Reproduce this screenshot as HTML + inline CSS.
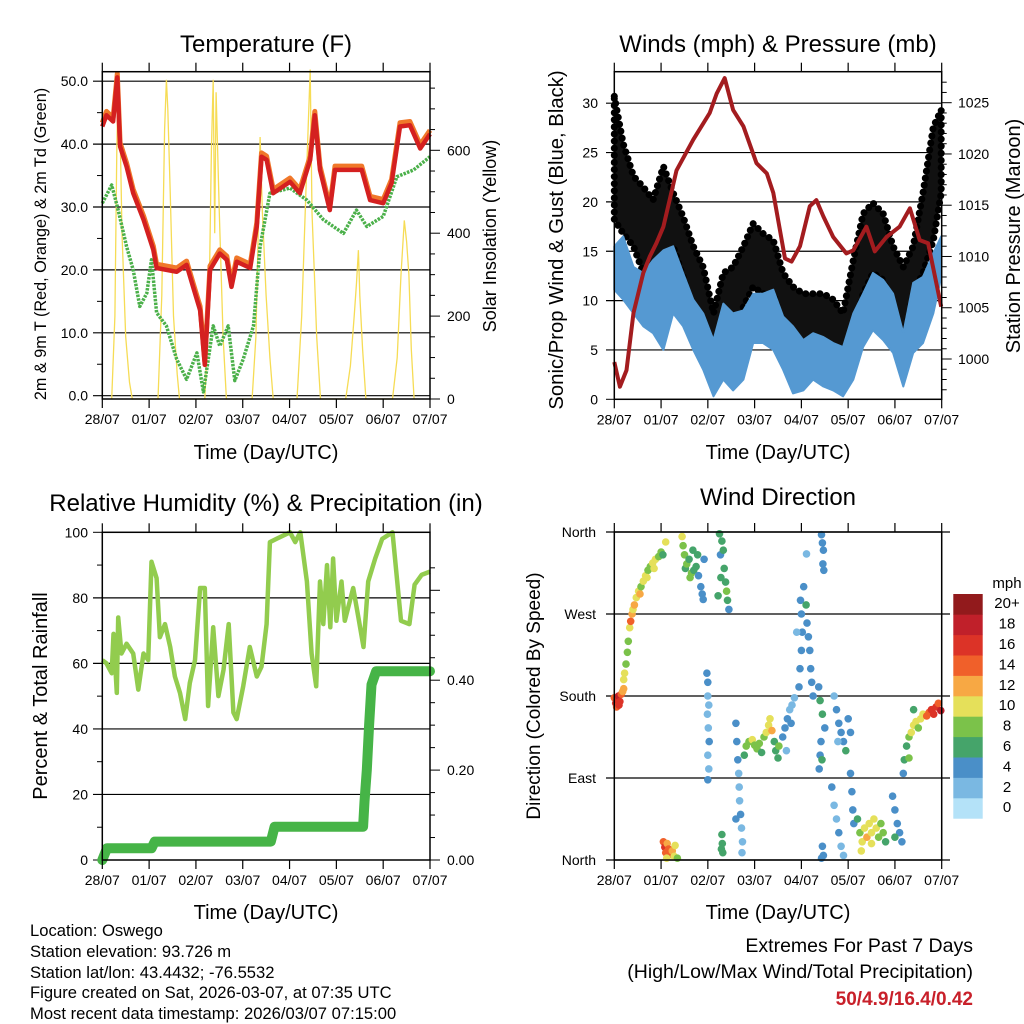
<!DOCTYPE html>
<html><head><meta charset="utf-8"><style>
html,body{margin:0;padding:0;background:#fff;}
svg{display:block;font-family:"Liberation Sans",Arial,sans-serif;}
</style></head><body>
<svg id="fig" xmlns="http://www.w3.org/2000/svg" width="1024" height="1024" viewBox="0 0 1024 1024">
<rect width="1024" height="1024" fill="#fff"/>
<g id="p1"></g>
<g id="p2"></g>
<g id="p3"></g>
<g id="p4"></g>

<text x="266" y="52" font-size="24" text-anchor="middle">Temperature (F)</text>
<text x="778" y="52" font-size="24" text-anchor="middle">Winds (mph) &amp; Pressure (mb)</text>
<text x="266" y="511" font-size="24" text-anchor="middle">Relative Humidity (%) &amp; Precipitation (in)</text>
<text x="778" y="505" font-size="24" text-anchor="middle">Wind Direction</text>

<text x="266" y="459" font-size="20" text-anchor="middle">Time (Day/UTC)</text>
<text x="778" y="459" font-size="20" text-anchor="middle">Time (Day/UTC)</text>
<text x="266" y="919" font-size="20" text-anchor="middle">Time (Day/UTC)</text>
<text x="778" y="919" font-size="20" text-anchor="middle">Time (Day/UTC)</text>

<text transform="translate(46,244) rotate(-90)" font-size="16.2" text-anchor="middle">2m &amp; 9m T (Red, Orange) &amp; 2m Td (Green)</text>
<text transform="translate(496,236) rotate(-90)" font-size="18" text-anchor="middle">Solar Insolation (Yellow)</text>
<text transform="translate(563,240) rotate(-90)" font-size="20.3" text-anchor="middle">Sonic/Prop Wind &amp; Gust (Blue, Black)</text>
<text transform="translate(1020,236) rotate(-90)" font-size="20" text-anchor="middle">Station Pressure (Maroon)</text>
<text transform="translate(47,696) rotate(-90)" font-size="20" text-anchor="middle">Percent &amp; Total Rainfall</text>
<text transform="translate(540,696) rotate(-90)" font-size="19" text-anchor="middle">Direction (Colored By Speed)</text>

<g font-size="16.6">
<text x="30" y="936">Location: Oswego</text>
<text x="30" y="957">Station elevation: 93.726 m</text>
<text x="30" y="978">Station lat/lon: 43.4432; -76.5532</text>
<text x="30" y="998">Figure created on Sat, 2026-03-07, at 07:35 UTC</text>
<text x="30" y="1019">Most recent data timestamp: 2026/03/07 07:15:00</text>
</g>
<g font-size="19.5" text-anchor="end">
<text x="973" y="952">Extremes For Past 7 Days</text>
<text x="973" y="978">(High/Low/Max Wind/Total Precipitation)</text>
<text x="973" y="1005" fill="#c8202a" font-weight="bold" font-size="19">50/4.9/16.4/0.42</text>
</g>
</svg>
<script>
// ---------- data ----------
const dayLabels = ["28/07","01/07","02/07","03/07","04/07","05/07","06/07","07/07"];
const tempT = [0,0.09,0.23,0.32,0.38,0.52,0.66,0.88,1.09,1.16,1.59,1.8,1.94,2.09,2.19,2.3,2.51,2.66,2.76,2.87,3.16,3.3,3.4,3.51,3.65,4.01,4.22,4.44,4.54,4.65,4.86,4.97,5.15,5.54,5.72,6.0,6.18,6.36,6.57,6.79,7.0];
const tempV = [42.8,44.6,43.6,50.6,39.6,36.4,32.2,28,23.2,20.3,19.7,20.8,17.3,13.6,4.9,20,22.6,21.6,17.3,21.3,20.3,26.9,38,37.5,32.2,34,32.2,37.5,44.6,35.9,29.5,35.9,35.9,35.9,31.1,30.6,33.8,42.8,43,39.3,41.6];
const dewT = [0,0.2,0.34,0.52,0.66,0.8,0.95,1.05,1.16,1.37,1.59,1.8,2.02,2.16,2.37,2.51,2.69,2.83,3.01,3.23,3.37,3.58,4.01,4.37,4.72,5.15,5.43,5.65,6.0,6.29,6.65,7.0];
const dewV = [30.6,33.5,29.5,23.7,20,14.2,16.3,21.6,13.2,11.1,5.8,2.6,6.8,0.6,11.1,7.9,11.1,2.4,5.8,11.1,23.7,32.2,33,31.1,28,25.8,29.5,26.9,28.5,34.8,35.9,38];
const solarT = [0.2,0.27,0.31,0.34,0.38,0.42,0.5,0.58,0.64, 1.19,1.27,1.33,1.37,1.4,1.45,1.52,1.6,1.65, 2.19,2.28,2.33,2.37,2.4,2.43,2.5,2.58,2.65, 3.2,3.28,3.33,3.37,3.42,3.5,3.58,3.65, 4.16,4.26,4.35,4.44,4.48,4.53,4.58,4.66, 5.2,5.3,5.38,5.43,5.47,5.5,5.56,5.63, 6.2,6.3,6.38,6.45,6.5,6.55,6.6,6.66];
const solarV = [0,200,600,770,650,400,150,40,0, 0,250,650,770,700,500,200,60,0, 0,220,600,770,400,740,450,150,0, 0,150,400,632,450,250,100,0, 0,200,500,795,450,300,150,0, 0,80,200,280,359,250,120,0, 0,100,300,431,380,300,120,0];

const windT = [0,0.19,0.41,0.62,0.83,1.05,1.26,1.47,1.69,1.9,2.12,2.33,2.54,2.76,2.97,3.18,3.4,3.61,3.82,4.04,4.25,4.47,4.68,4.89,5.11,5.32,5.53,5.75,5.96,6.18,6.39,6.6,6.82,6.99];
const windHi = [15.5,16.5,13.4,12.8,14.1,15.1,15.5,12.8,10.1,8.7,6.0,9.7,8.7,9.0,10.7,10.7,11.1,8.4,7.4,6.0,6.7,6.3,5.7,5.3,8.7,10.7,12.8,12.1,10.7,6.7,11.8,12.4,14.8,16.5];
const windLo = [11.1,10.1,8.7,7.4,6.7,5.0,8.7,7.4,5.0,3.0,0.3,2.0,0.9,2.0,5.7,5.7,5.0,3.0,0.6,0.9,2.0,1.3,0.9,0.3,2.0,5.3,7.0,6.0,4.7,1.3,4.7,5.7,8.7,12.4];
const gustHi = [30.7,25.9,22.6,21.5,20.2,23.6,20.9,18.5,15.5,13.4,8.7,12.8,13.4,15.5,17.8,16.8,16.1,12.8,11.4,10.7,10.7,10.7,10.1,8.7,14.1,18.8,19.9,18.8,15.5,13.4,15.5,20.9,27.6,29.3];
const gustLo = [18.2,16.8,15.5,12.8,11.4,12.8,15.5,12.4,8.7,6.3,4.0,5.3,4.7,9.4,11.4,10.7,10.7,7.4,4.7,4.7,4.7,4.7,4.7,4.0,6.7,10.7,12.8,12.1,8.7,5.7,10.7,12.8,16.1,20.9];
const presT = [0,0.12,0.26,0.41,0.62,0.76,0.9,1.05,1.33,1.69,2.04,2.19,2.36,2.54,2.76,3.04,3.26,3.4,3.65,3.79,3.97,4.18,4.32,4.47,4.68,4.96,5.11,5.39,5.57,5.82,6.1,6.32,6.53,6.71,6.99];
const presV = [999.7,997.3,998.9,1004.5,1008.4,1010,1011.3,1012.9,1018.4,1021.4,1024,1025.9,1027.4,1024.3,1022.7,1019.1,1018.1,1016.2,1009.8,1009.5,1011,1014.9,1015.5,1013.9,1011.9,1010.3,1010.6,1012.9,1010.5,1011.9,1012.9,1014.7,1011.6,1011.3,1005.1];

const rhT = [0,0.09,0.2,0.24,0.31,0.34,0.41,0.52,0.66,0.77,0.88,0.98,1.05,1.16,1.23,1.34,1.45,1.55,1.66,1.77,1.87,1.98,2.09,2.19,2.26,2.37,2.48,2.59,2.7,2.8,2.87,3.01,3.15,3.3,3.4,3.51,3.58,3.72,4.01,4.12,4.23,4.37,4.47,4.57,4.65,4.72,4.8,4.87,4.93,5.0,5.11,5.18,5.36,5.47,5.58,5.68,5.83,5.98,6.2,6.38,6.56,6.67,6.82,7.0];
const rhV = [61,60,57,69,51,74,63,66,63,52,63,61,91,86,68,72,65,56,51,43,54,61,83,83,47,71,50,58,72,45,43,53,65,56,59,72,97,98,100,97,100,85,63,53,85,72,90,71,92,73,85,73,83,74,65,85,92,98,100,73,72,84,87,88];
const rainT = [0,0.1,1.05,1.12,3.6,3.68,5.57,5.6,5.65,5.7,5.75,5.85,7.0];
const rainV = [0,0.026,0.026,0.041,0.041,0.074,0.074,0.13,0.2,0.3,0.39,0.42,0.42];

const wdT = [0,0.03,0.06,0.09,0.12,0.15,0.18,0.05,0.1,0.2, 0.2,0.22,0.25,0.28,0.3,0.33,0.35,0.38,0.4,0.43, 0.47,0.52,0.57,0.62,0.67,0.72,0.77,0.82,0.88,0.95,1.0,1.04,0.55,0.7,0.85,1.1,
 1.05,1.08,1.1,1.13,1.16,1.2,1.24,1.28,1.3,1.35,1.12,
 1.45,1.47,1.5,1.52,1.55,1.6,1.62,1.65,1.7,1.75,1.8,1.85,1.88,1.9,1.78,1.68,1.92,
 1.98,2.0,2.0,2.02,1.99,2.01,2.03,2.0,2.02,2.0,
 2.25,2.3,2.27,2.35,2.38,2.4,2.42,2.45,2.33,2.28,2.22, 2.3,2.31,2.32,2.29,
 2.6,2.62,2.64,2.66,2.67,2.68,2.7,2.72,2.74,2.73,2.6,
 2.78,2.82,2.88,2.95,3.0,3.05,3.1,3.15,3.2,3.25,3.3,3.33,3.37,3.42,3.45,3.5,3.52,
 3.6,3.65,3.7,3.75,3.8,3.78,3.68,3.85,
 3.95,3.97,4.0,4.02,4.0,3.98,4.05,4.1,4.12,4.15,4.18,4.2,4.22,4.25,4.11,3.9,
 4.43,4.45,4.47,4.46,4.48, 4.37,4.4,4.45,4.5,4.42,4.4,4.38,4.44,
 4.7,4.75,4.8,4.85,4.9,4.95,4.78,5.0,5.05, 4.65,4.7,4.75,4.8,4.85,4.9, 4.45,4.47,4.43,
 5.05,5.08,5.1,5.12,
 5.2,5.25,5.3,5.35,5.4,5.45,5.5,5.55,5.6,5.65,5.7,5.75,5.8,5.28,5.5,
 5.95,6.0,6.05,6.1,6.15,6.0,
 6.18,6.2,6.25,6.3,6.35,6.4,6.45,6.5,6.55,6.6,6.3,6.4,
 6.68,6.73,6.78,6.83,6.88,6.93,6.98];
const wdDir = [178,172,176,180,174,182,185,168,170,188, 198,205,215,228,240,255,262,270,275,280, 288,295,300,306,312,318,322,326,330,333,338,335,292,310,320,349,
 20,14,8,18,12,6,10,4,16,2,2,
 355,345,335,320,325,330,310,315,318,322,312,300,292,286,335,340,330,
 205,195,180,170,160,145,130,115,100,88,
 358,350,335,320,305,295,285,275,340,310,290, 28,18,8,12,
 150,130,110,95,80,65,50,35,20,8,45,
 115,125,130,132,126,122,128,118,135,140,148,155,142,130,120,112,125,
 135,145,155,165,170,150,120,178,
 190,210,230,250,270,285,300,280,260,245,230,210,195,180,336,250,
 357,348,340,325,318, 190,175,160,145,130,115,100,110,
 180,165,150,140,130,120,130,155,140, 80,60,45,30,15,5, 15,5,2,
 95,75,55,40,
 45,30,20,35,25,40,30,45,35,25,40,30,20,10,18,
 70,55,40,30,20,25,
 95,110,125,135,140,148,152,145,155,160,112,165,
 158,162,165,160,168,172,164];
const wdSpd = [14,15,16,17,15,13,12,14,15,12, 9,10,8,7,8,10,13,12,10,11, 9,10,8,10,9,8,7,9,10,7,8,6,11,10,10,10,
 14,15,13,12,14,13,12,10,9,7,10,
 9,8,7,6,7,6,8,7,6,5,4,4,4,4,5,6,3,
 4,3,2,2,2,2,3,2,2,3,
 6,5,4,6,6,7,6,4,6,6,6, 6,6,6,5,
 3,3,4,2,2,2,3,2,2,2,4,
 6,8,8,10,8,7,8,6,8,10,10,10,12,6,6,6,7,
 4,4,4,2,2,3,2,2,
 3,3,4,4,4,4,4,5,4,4,4,4,3,3,2,2,
 4,4,4,4,3, 4,5,5,4,4,4,4,6,
 2,3,4,4,3,6,2,4,4, 3,2,2,3,2,2, 4,4,3,
 4,4,4,4,
 6,8,10,10,12,10,10,9,10,8,7,8,6,10,9,
 4,4,4,4,3,6,
 4,5,6,8,10,9,10,8,9,10,8,6,
 13,14,15,15,16,14,17];
const speedColors = ["#b4e2f8","#7ab8e2","#4a8fc8","#45a46a","#7bc24a","#e5e05a","#f7a844","#f0602a","#dc3327","#c0202a","#921a1c"];
const speedLabels = ["0","2","4","6","8","10","12","14","16","18","20+"];

// ---------- helpers ----------
const NS = "http://www.w3.org/2000/svg";
function lin(d0,d1,r0,r1){return v => r0 + (v-d0)*(r1-r0)/(d1-d0);}
function mk(parent, tag, attrs){const e=document.createElementNS(NS,tag);for(const k in attrs)e.setAttribute(k,attrs[k]);parent.appendChild(e);return e;}
function pathFrom(xs, ys, xf, yf){return xs.map((t,i)=>(i?"L":"M")+xf(t).toFixed(1)+","+yf(ys[i]).toFixed(1)).join("");}
function frame(g, x0,x1,y0,y1, xf){
  for(let i=0;i<dayLabels.length;i++){
    const x=xf(i);
    const t1=mk(g,"line",{x1:x,x2:x,y1:y0-9,y2:y0,stroke:"#000","stroke-width":1.2});
    
    
    const t2=mk(g,"line",{x1:x,x2:x,y1:y1,y2:y1+9,stroke:"#000","stroke-width":1.2});
    
    
    const tx=mk(g,"text",{x:x,y:y1+25,"font-size":14,"text-anchor":"middle"});
    tx.textContent=dayLabels[i];
    
    
  }
  const b=mk(g,"rect",{x:x0,y:y0,width:x1-x0,height:y1-y0,fill:"none",stroke:"#000","stroke-width":1.5});
  
  
}
function hgrid(g, y, xa, xb, w){
  const l=mk(g,"line",{x1:xa,x2:xb,y1:y,y2:y,stroke:"#000","stroke-width":w||1.2});
  
  
}
function label(g, x, y, txt, anchor, name, size){
  const t=mk(g,"text",{x:x,y:y+5,"font-size":size||14,"text-anchor":anchor});
  t.textContent=txt;
  
  
}
function rtick(g, x, y, len){
  const l=mk(g,"line",{x1:x,x2:x+len,y1:y,y2:y,stroke:"#000","stroke-width":1});
  
  
}

// ---------- panel 1: temperature ----------
(function(){
  const g=document.getElementById("p1");
  const xT=lin(0,7,102.3,430), yT=lin(0,50,395.7,81.2), yS=lin(0,600,399,150.3);
  for(let v=0;v<=50;v+=10){hgrid(g,yT(v),93,430);label(g,88,yT(v),v.toFixed(1),"end","temp-y-label");}
  for(let v=5;v<=50;v+=10){rtick(g,97,yT(v),5);}
  for(let v=0;v<=750;v+=50){rtick(g,430,yS(v),v%200===0?10:5);}
  for(let v=0;v<=600;v+=200){label(g,447,yS(v),String(v),"start","solar-y-label");}
  const sol=mk(g,"path",{d:pathFrom(solarT,solarV,xT,yS),fill:"none",stroke:"#f6dc55","stroke-width":1.3});
  
  
  const dew=mk(g,"path",{d:pathFrom(dewT,dewV,xT,yT),fill:"none",stroke:"#4bb04a","stroke-width":3.5,"stroke-dasharray":"2.5 1.2","stroke-linejoin":"round"});
  
  
  const t9=mk(g,"path",{d:pathFrom(tempT,tempV.map(v=>v+0.6),xT,yT),fill:"none",stroke:"#f0782a","stroke-width":5,"stroke-linejoin":"round"});
  
  
  const t2=mk(g,"path",{d:pathFrom(tempT,tempV,xT,yT),fill:"none",stroke:"#d42020","stroke-width":4.5,"stroke-linejoin":"round"});
  
  
  frame(g,102.3,430,71.7,399,xT);
})();

// ---------- panel 2: winds & pressure ----------
(function(){
  const g=document.getElementById("p2");
  const xW=lin(0,7,614.3,941.7), yW=lin(0,30,399.3,103.2), yP=lin(1000,1025,359,102.7);
  for(let v=0;v<=30;v+=5){ if(v>0) hgrid(g,yW(v),606,942); else rtick(g,606,yW(v),8); label(g,598,yW(v),String(v),"end","wind-y-label");}
  for(let v=997;v<=1027;v++){rtick(g,941.7,yP(v),v%5===0?10:5);}
  for(let v=1000;v<=1025;v+=5){label(g,958,yP(v),String(v),"start","pressure-y-label");}
  const gb=windT.map((t,i)=>xW(t).toFixed(1)+","+yW(gustHi[i]).toFixed(1)).concat(windT.slice().reverse().map((t,j)=>{const i=windT.length-1-j;return xW(t).toFixed(1)+","+yW(gustLo[i]).toFixed(1);}));
  const gust=mk(g,"polygon",{points:gb.join(" "),fill:"#111",stroke:"#000","stroke-width":7,"stroke-linejoin":"round","stroke-dasharray":"0.1 7","stroke-linecap":"round"});
  
  
  const wb=windT.map((t,i)=>xW(t).toFixed(1)+","+yW(windHi[i]).toFixed(1)).concat(windT.slice().reverse().map((t,j)=>{const i=windT.length-1-j;return xW(t).toFixed(1)+","+yW(windLo[i]).toFixed(1);}));
  const wind=mk(g,"polygon",{points:wb.join(" "),fill:"#5599d2",stroke:"#5599d2","stroke-width":2,"stroke-linejoin":"round"});
  
  
  const pr=mk(g,"path",{d:pathFrom(presT,presV,xW,yP),fill:"none",stroke:"#a31c1f","stroke-width":4,"stroke-linejoin":"round"});
  
  
  frame(g,614.3,941.7,71.7,399.3,xW);
})();

// ---------- panel 3: humidity & rain ----------
(function(){
  const g=document.getElementById("p3");
  const xR=lin(0,7,102.3,430), yR=lin(0,100,860,532.3), yRain=lin(0,0.6,860,590.3);
  for(let v=0;v<=100;v+=20){ if(v>0&&v<100) hgrid(g,yR(v),93,430); else rtick(g,93,yR(v),9); label(g,88,yR(v),String(v),"end","rh-y-label");}
  for(let v=10;v<100;v+=20){rtick(g,97,yR(v),5);}
  for(let v=0;v<=0.7;v+=0.05){rtick(g,430,yRain(v),Math.round(v*100)%20===0?10:5);}
  for(let v=0;v<=0.6;v+=0.2){label(g,447,yRain(v),v.toFixed(2),"start","rain-y-label");}
  const rh=mk(g,"path",{d:pathFrom(rhT,rhV,xR,yR),fill:"none",stroke:"#92cc4e","stroke-width":4.5,"stroke-linejoin":"round"});
  
  
  const rn=mk(g,"path",{d:pathFrom(rainT,rainV,xR,yRain),fill:"none",stroke:"#46b447","stroke-width":10,"stroke-linejoin":"round","stroke-linecap":"round"});
  
  
  frame(g,102.3,430,532.3,860,xR);
})();

// ---------- panel 4: wind direction ----------
(function(){
  const g=document.getElementById("p4");
  const xD=lin(0,7,614.3,941.7), yD=lin(0,360,860,532);
  const names=["North","East","South","West","North"];
  for(let i=0;i<=4;i++){hgrid(g,yD(i*90),606,950);label(g,596,yD(i*90),names[i],"end","direction-y-label");}
  for(let i=0;i<wdT.length;i++){
    const ci=Math.min(10,Math.floor((wdSpd[i]+1)/2));
    const c=mk(g,"circle",{cx:xD(wdT[i]).toFixed(1),cy:yD(wdDir[i]).toFixed(1),r:3.8,fill:speedColors[ci]});
    
    
  }
  frame(g,614.3,941.7,532,860,xD);
  const lg=mk(g,"g",{});
  
  
  const mph=mk(lg,"text",{x:1007,y:588,"font-size":15,"text-anchor":"middle"});
  mph.textContent="mph";
  
  
  const h=20.4;
  for(let i=0;i<speedColors.length;i++){
    const y=594+(10-i)*h;
    const r=mk(lg,"rect",{x:953.3,y:y,width:29.4,height:h+0.3,fill:speedColors[i]});
    
    
    label(lg,1007,y+h/2-1,speedLabels[i],"middle","legend-label",15);
  }
})();
</script>
</body></html>
